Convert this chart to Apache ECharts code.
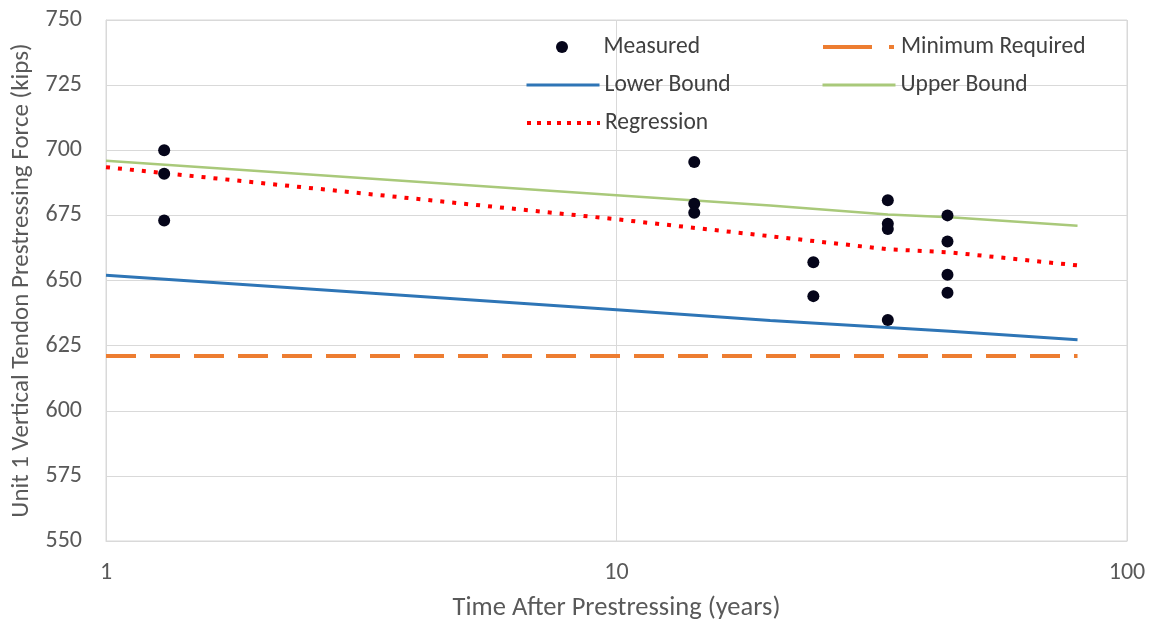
<!DOCTYPE html>
<html>
<head>
<meta charset="utf-8">
<script src="https://cdn.jsdelivr.net/npm/echarts@6/dist/echarts.min.js"></script>
<style>html,body{margin:0;padding:0;background:#fff}#c{width:1153px;height:629px}</style>
</head>
<body>
<div id="c"></div>
<script>
// Measured data (years, kips)
const measuredX = [1.3, 1.3, 1.3, 14.2, 14.2, 14.2, 24.3, 24.3, 34, 34, 34, 34, 44.5, 44.5, 44.5, 44.5];
const measuredY = [700, 691, 673, 695.5, 679.5, 676, 657, 644, 680.8, 671.8, 669.8, 634.8, 675, 665, 652.2, 645.3];
// Bound / regression curves
const curveX = [1, 10, 20, 34, 45, 80];
const upperY = [696, 682.7, 678.8, 675.3, 674.3, 671];
const lowerY = [652, 638.8, 634.6, 632, 630.5, 627.3];
const regressionY = [693.5, 673.5, 667, 662, 660.8, 655.8];
const minX = [1, 80];
const minY = [621, 621];
const yTicks = [550, 575, 600, 625, 650, 675, 700, 725, 750];

const pairs = (xs, ys) => xs.map((x, i) => [x, ys[i]]);
const FONT = 'Carlito, Lato, sans-serif';

const chart = echarts.init(document.getElementById('c'), null, {renderer: 'canvas'});
function legend(name, left, top, lineStyle) {
  const l = {
    data: [name], left: left, top: top, padding: 0, itemWidth: 73, itemHeight: 12, itemGap: 0,
    textStyle: {fontFamily: FONT, fontSize: 23.5, color: '#404040', lineHeight: 24},
    selectedMode: false
  };
  if (lineStyle) {
    l.lineStyle = lineStyle;
    l.itemStyle = {opacity: 0, color: 'transparent', borderWidth: 0};
  }
  return l;
}
chart.setOption({
  animation: false,
  backgroundColor: '#fff',
  grid: {left: 106, right: 26, top: 20, bottom: 88, show: true, borderColor: '#d9d9d9', borderWidth: 1},
  legend: [
    legend('Measured', 556, 35),
    legend('Minimum Required', 821, 35, {color: '#ed7d31', width: 4, type: [49, 17, 5, 40]}),
    legend('Lower Bound', 525, 73, {color: '#2e75b6', width: 3, type: 'solid'}),
    legend('Upper Bound', 821, 73, {color: '#a9c97a', width: 3, type: 'solid'}),
    legend('Regression', 525, 111, {color: '#ff0000', width: 4, type: [4, 6], dashOffset: -10})
  ],
  xAxis: {
    type: 'log', logBase: 10, min: 1, max: 100,
    axisLine: {show: true, lineStyle: {color: '#d9d9d9'}},
    axisTick: {show: false},
    axisLabel: {margin: 20, color: '#595959', fontFamily: FONT, fontSize: 24},
    splitLine: {show: true, lineStyle: {color: '#d9d9d9', width: 1}},
    name: 'Time After Prestressing (years)', nameLocation: 'middle', nameGap: 54,
    nameTextStyle: {fontFamily: FONT, fontSize: 26.5, color: '#595959'}
  },
  yAxis: {
    type: 'value', min: yTicks[0], max: yTicks[yTicks.length - 1], interval: 25,
    axisLine: {show: true, lineStyle: {color: '#d9d9d9'}},
    axisTick: {show: false},
    axisLabel: {margin: 24, color: '#595959', fontFamily: FONT, fontSize: 24},
    splitLine: {show: true, lineStyle: {color: '#d9d9d9', width: 1}},
    name: 'Unit 1 Vertical Tendon Prestressing Force (kips)', nameLocation: 'middle', nameGap: 70,
    nameTextStyle: {fontFamily: FONT, fontSize: 25, color: '#595959'}
  },
  series: [
    {name: 'Measured', type: 'scatter', data: pairs(measuredX, measuredY), symbol: 'circle', symbolSize: 12,
     itemStyle: {color: '#05051a', opacity: 1}, z: 10},
    {name: 'Minimum Required', type: 'line', data: pairs(minX, minY), symbol: 'none',
     lineStyle: {color: '#ed7d31', width: 4, type: [30, 14]}, itemStyle: {color: '#ed7d31'}, z: 3},
    {name: 'Lower Bound', type: 'line', data: pairs(curveX, lowerY), symbol: 'none',
     lineStyle: {color: '#2e75b6', width: 3}, itemStyle: {color: '#2e75b6'}, z: 4},
    {name: 'Upper Bound', type: 'line', data: pairs(curveX, upperY), symbol: 'none',
     lineStyle: {color: '#a9c97a', width: 2.5}, itemStyle: {color: '#a9c97a'}, z: 4},
    {name: 'Regression', type: 'line', data: pairs(curveX, regressionY), symbol: 'none',
     lineStyle: {color: '#ff0000', width: 4, type: [4, 8]}, itemStyle: {color: '#ff0000'}, z: 5}
  ]
});
</script>
</body>
</html>
